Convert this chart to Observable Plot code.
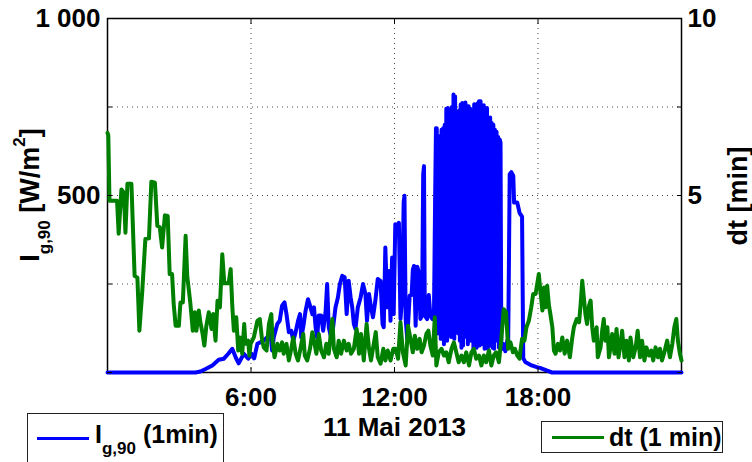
<!DOCTYPE html>
<html>
<head>
<meta charset="utf-8">
<script src="https://cdn.jsdelivr.net/npm/d3@7"></script>
<script src="https://cdn.jsdelivr.net/npm/@observablehq/plot@0.6"></script>
<style>
  body { margin: 0; background: #fff; }
  #wrap { position: relative; width: 752px; height: 462px; overflow: hidden;
          font-family: "Liberation Sans", Arial, sans-serif; font-weight: bold; color: #000; }
  #wrap svg { position: absolute; left: 0; top: 0; }
  .abs { position: absolute; white-space: nowrap; line-height: 1; }
  .rot { transform: translate(-50%, -50%) rotate(-90deg); }
  .sub { font-size: 17px; position: relative; top: 11px; }
  .sup { font-size: 17px; position: relative; top: -14px; }
  .box { position: absolute; border: 1px solid #222; background: #fff; box-sizing: border-box; }
  .swatch { position: absolute; height: 3px; }
</style>
</head>
<body>
<div id="wrap"></div>
<script>
// ---- data (minutes since midnight, value) ----
const irradiance1min = [
  [0,0],[221,0],[233,3],[246,10],[263,20],[279,36],[292,39],[303,53],[313,67],[323,39],[329,26],
  [342,53],[353,39],[361,53],[368,40],[376,81],[392,90],[409,109],[413,62],[417,99],[426,137],
  [432,146],[438,189],[444,198],[449,165],[455,114],[461,118],[466,90],[472,114],[478,146],[483,165],
  [486,99],[491,128],[497,175],[503,207],[508,189],[514,165],[518,184],[522,128],[526,99],[530,161],
  [536,161],[541,118],[547,170],[551,250],[555,128],[561,99],[566,128],[572,184],[578,212],[583,250],
  [589,273],[595,269],[600,165],[605,259],[610,212],[614,184],[618,137],[622,123],[628,184],[635,212],
  [641,250],[647,222],[651,146],[656,222],[661,184],[666,156],[672,203],[678,264],[685,259],[690,137],
  [693,128],[697,353],[702,184],[706,287],[710,146],[714,325],[718,165],[722,419],[728,414],[731,423],
  [735,151],[739,208],[743,480],[745,499],[748,151],[752,95],[758,217],[763,219],[766,290],[769,301],
  [773,132],[777,299],[781,283],[785,151],[789,161],[792,560],[794,583],[796,161],[802,151],[806,219],
  [810,161],[815,151],[819,160],[822,500],[824,690],
  [826,690],[828,110],[830,668],[832,150],[834,660],[836,95],[838,686],[840,120],[842,690],[844,80],
  [846,700],[848,104],[850,745],[852,90],[854,747],[856,130],[858,733],[860,590],[862,100],[864,750],
  [866,110],[868,785],[870,95],[872,780],[874,120],[876,114],[878,660],[880,110],[882,740],[884,90],
  [886,757],[888,70],[890,761],[892,76],[894,755],[896,100],[898,763],[900,198],[902,752],[904,80],
  [906,752],[908,114],[910,745],[912,90],[914,738],[916,715],[918,67],[920,758],[922,80],[924,757],
  [926,70],[928,760],[930,90],[932,766],[934,76],[936,766],[938,151],[940,743],[942,80],[944,755],
  [946,67],[948,733],[950,90],[952,747],[954,67],[956,715],[958,76],[960,720],[962,80],[964,705],
  [966,70],[968,700],[970,67],[972,686],[974,320],[976,680],[978,90],[980,665],[982,70],[984,658],
  [986,649],[988,80],[990,67],[994,80],[998,60],[1003,90],[1005,70],[1007,300],[1009,560],[1013,566],
  [1018,555],[1020,480],[1028,480],[1034,450],[1040,440],[1043,40],[1048,30],[1064,20],[1077,15],
  [1085,13],[1103,5],[1115,0],[1440,0]
];
const dt1min = [
  [0,6.77],[2,6.7],[5,4.85],[24,4.85],[28,3.92],[35,5.17],[41,5.08],[45,3.95],[50,5.33],[60,5.33],
  [68,2.73],[75,2.68],[80,1.18],[87,2.26],[95,3.77],[104,3.79],[110,5.39],[119,5.36],[125,4.14],
  [131,4.11],[137,3.53],[144,4.44],[151,4.42],[156,2.78],[162,2.78],[166,1.94],[171,1.32],[179,1.32],
  [183,1.98],[189,1.98],[196,3.86],[200,2.73],[208,1.94],[214,1.18],[219,1.70],[223,1.18],[229,1.75],
  [233,1.42],[238,1.13],[243,0.76],[248,1.32],[254,1.70],[261,1.23],[265,1.65],[271,0.90],[276,2.03],
  [282,1.84],[288,3.34],[293,2.52],[304,2.52],[309,2.92],[313,1.89],[317,1.18],[323,1.56],[328,0.62],
  [332,0.99],[338,0.53],[343,1.37],[346,0.81],[353,0.90],[356,0.48],
  [359,0.81],[367,0.99],[376,1.46],[382,1.51],[388,0.90],[392,0.71],[399,0.62],[405,1.37],[411,1.65],
  [414,0.90],[419,0.43],[426,0.81],[432,0.62],[438,0.85],[442,0.53],[449,0.81],[455,0.34],[461,0.67],
  [466,0.99],[472,0.53],[478,0.34],[484,0.67],[491,1.09],[495,0.48],[501,0.34],[508,0.67],[514,1.14],
  [518,0.90],[524,0.53],[530,1.09],[536,0.62],[543,0.43],[549,0.81],[555,0.53],[564,1.51],[568,0.67],
  [575,0.43],[580,0.90],[586,0.53],[593,0.90],[600,0.62],[605,0.81],[611,0.53],[618,0.67],[625,1.23],
  [631,0.53],[636,1.09],[643,0.34],[650,1.37],[656,0.67],[661,0.34],[668,0.81],[673,1.14],[678,0.43],
  [685,0.25],[692,0.67],[697,0.34],[703,0.62],[710,0.34],[717,0.67],
  [723,0.67],[729,0.39],[735,1.42],[741,0.57],[748,0.20],[754,1.32],[760,0.95],[766,0.57],[771,1.04],
  [777,0.67],[783,0.95],[788,0.57],[794,0.76],[800,1.09],[805,1.18],[810,0.76],[816,0.48],[821,1.56],
  [825,0.20],[831,0.57],[838,0.67],[844,0.48],[850,0.57],[856,0.29],[863,0.67],[869,0.85],[875,0.57],
  [881,0.29],[888,0.48],[894,0.29],[900,0.57],[907,0.20],[913,0.57],[919,0.67],[925,0.39],[932,0.48],
  [938,0.20],[944,0.48],[950,0.29],[957,0.62],[963,0.20],[969,0.48],[975,0.57],[982,0.29],[988,0.95],
  [994,1.79],[1000,1.70],[1005,0.67],[1011,0.85],[1017,0.57],[1022,0.67],[1028,0.48],[1034,0.39],
  [1036,0.62],[1040,0.95],[1046,0.90],[1051,1.28],[1057,1.46],[1063,1.84],[1068,2.22],[1074,2.22],
  [1078,2.50],[1082,2.78],[1086,2.31],[1091,1.75],[1095,2.40],[1099,1.84],[1103,2.45],[1107,1.93],
  [1111,1.65],[1116,1.28],[1120,0.62],[1124,0.53],[1130,0.81],[1135,0.62],[1141,0.99],[1147,0.53],
  [1153,0.90],[1160,0.43],[1166,0.99],[1170,1.28],[1177,1.51],[1183,1.42],[1187,1.93],[1191,2.59],
  [1195,2.12],[1199,1.65],[1203,1.37],[1208,1.89],[1212,2.03],[1216,1.28],[1220,0.90],[1227,1.28],
  [1230,0.43],[1237,0.71],[1241,1.18],[1245,1.51],[1249,0.90],[1254,1.28],[1258,0.43],[1262,0.71],
  [1266,1.09],[1272,0.53],[1277,1.23],[1282,0.43],[1287,0.81],[1291,1.18],[1297,0.43],[1302,0.90],
  [1308,0.34],[1312,0.99],[1319,0.43],[1325,0.71],[1330,1.18],[1336,0.43],[1341,0.90],[1347,0.34],
  [1352,0.71],[1358,0.48],[1364,0.62],[1369,0.34],[1375,0.71],[1381,0.43],[1386,0.67],[1391,0.34],
  [1397,0.57],[1404,0.90],[1411,0.43],[1417,0.81],[1422,1.28],[1427,1.51],[1431,0.90],[1436,0.53],
  [1440,0.34]
];
const xTicks = [360, 720, 1080];
const xTickLabels = ["6:00", "12:00", "18:00"];
const yGrid = [250, 500, 750];
const yTicks = [500, 1000];
const yTickLabels = ["500", "1 000"];
const y2Ticks = [5, 10];
const yMax = 1000, y2Max = 10;
const xLabel = "11 Mai 2013";

const k = yMax / y2Max;
const blue = irradiance1min.map(([t, v]) => ({t, v}));
const green = dt1min.map(([t, v]) => ({t, v: v * k}));
const allTicks = [0, ...yGrid, yMax];

const plot = Plot.plot({
  width: 752, height: 462,
  marginLeft: 107, marginRight: 71, marginTop: 18, marginBottom: 90,
  x: {domain: [0, 1440]},
  y: {domain: [0, yMax]},
  style: {fontFamily: "Liberation Sans, Arial, sans-serif", fontWeight: "bold", background: "white", color: "black", overflow: "visible"},
  marks: [
    Plot.gridY(yGrid, {stroke: "#333", strokeOpacity: 0.9, strokeDasharray: "1,4"}),
    Plot.gridX(xTicks, {stroke: "#333", strokeOpacity: 0.9, strokeDasharray: "1,4"}),
    Plot.frame({stroke: "black", strokeWidth: 1.5}),
    Plot.line(blue, {x: "t", y: "v", stroke: "#0000ff", strokeWidth: 4}),
    Plot.line(green, {x: "t", y: "v", stroke: "#008000", strokeWidth: 4}),
    // inward tick marks on all four sides
    Plot.axisY({anchor: "left", ticks: allTicks, tickSize: 5, dx: 5, tickFormat: () => "", label: null}),
    Plot.axisY({anchor: "right", ticks: allTicks, tickSize: 5, dx: -5, tickFormat: () => "", label: null}),
    Plot.axisX({anchor: "bottom", ticks: xTicks, tickSize: 5, dy: -5, tickFormat: () => "", label: null}),
    Plot.axisX({anchor: "top", ticks: xTicks, tickSize: 5, dy: 5, tickFormat: () => "", label: null}),
    // labels
    Plot.axisY({anchor: "left", ticks: yTicks, tickSize: 0, tickPadding: 7, fontSize: 26,
                tickFormat: d => yTickLabels[yTicks.indexOf(d)], label: null}),
    Plot.axisY({anchor: "right", ticks: y2Ticks.map(v => v * k), tickSize: 0, tickPadding: 6, fontSize: 26,
                tickFormat: d => String(d / k), label: null}),
    Plot.axisX({anchor: "bottom", ticks: xTicks, tickSize: 0, tickPadding: 15, fontSize: 26,
                tickFormat: d => xTickLabels[xTicks.indexOf(d)], label: null}),
    Plot.text([xLabel], {frameAnchor: "bottom", dy: 63, fontSize: 26, text: d => d})
  ]
});

const wrap = document.getElementById("wrap");
wrap.appendChild(plot);
wrap.insertAdjacentHTML("beforeend", `
  <div class="abs rot" style="left:30px;top:195px;font-size:27px;">I<span class="sub">g,90</span> [W/m<span class="sup">2</span>]</div>
  <div class="abs rot" style="left:738px;top:196px;font-size:27px;">dt [min]</div>
  <div class="box" style="left:27px;top:413px;width:197px;height:70px;"></div>
  <div class="swatch" style="left:37px;top:437px;width:52px;background:#0000ff;"></div>
  <div class="abs" style="left:95px;top:422px;font-size:25px;">I<span class="sub">g,90</span> (1min)</div>
  <div class="box" style="left:541px;top:421px;width:182px;height:32px;"></div>
  <div class="swatch" style="left:552px;top:436px;width:52px;background:#008000;"></div>
  <div class="abs" style="left:609px;top:425px;font-size:25px;">dt (1 min)</div>
`);
</script>
</body>
</html>
